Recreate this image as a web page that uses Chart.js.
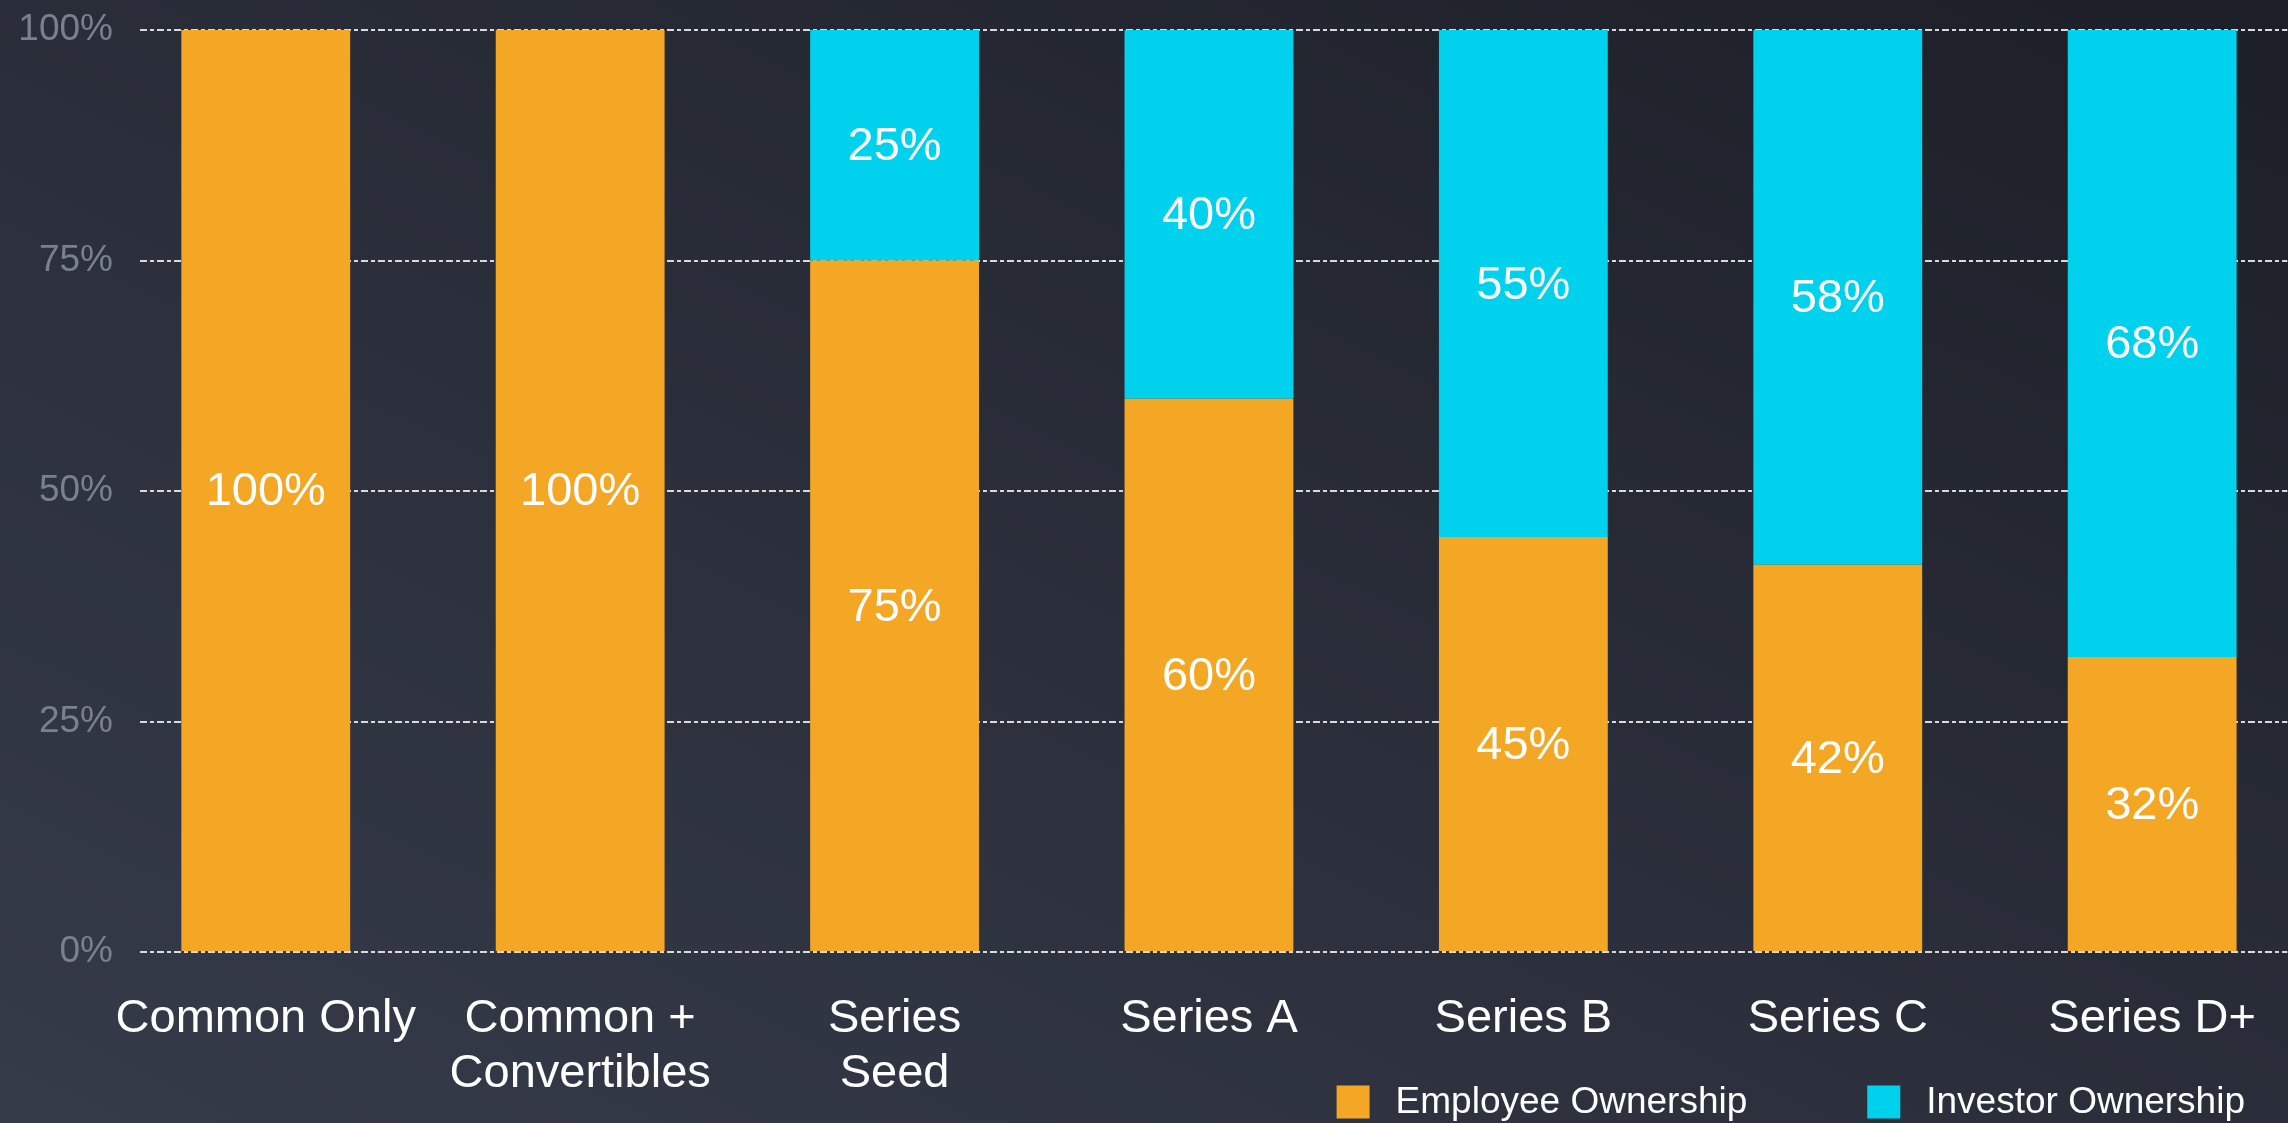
<!DOCTYPE html>
<html>
<head>
<meta charset="utf-8">
<title>Employee vs Investor Ownership</title>
<script src="https://cdn.jsdelivr.net/npm/chart.js@4/dist/chart.umd.min.js"></script>
<style>
    html, body {
        margin: 0;
        padding: 0;
        overflow: hidden;
    }
    body {
        width: 2288px;
        height: 1123px;
        background: linear-gradient(to top right, #363b4a 0%, #2b2f3b 45%, #1c1f27 100%);
    }
    #wrap {
        position: relative;
        width: 2288px;
        height: 1123px;
    }
</style>
</head>
<body>
<div id="wrap">
    <canvas id="ownership-chart" width="2288" height="1123"></canvas>
</div>
<script>
// ------------ DATA ------------ 

const categories = [
    'Common Only',
    ['Common +', 'Convertibles'],
    ['Series', 'Seed'],
    'Series A',
    'Series B',
    'Series C',
    'Series D+'
];

const employeeOwnership = [100, 100, 75, 60, 45, 42, 32];
const investorOwnership = [0, 0, 25, 40, 55, 58, 68];

const yTicks = [0, 25, 50, 75, 100];

const seriesNames = ['Employee Ownership', 'Investor Ownership'];

// ------------ STYLE ------------ 

const ORANGE = '#f4a724';
const CYAN = '#00d1ec';
const FONT = '"Liberation Sans", Arial, Helvetica, sans-serif';

function toPoints(values){
    return values.map(function(v, i){ return { x: i, y: v } });
}

// percent labels in the middle of every segment
const segmentLabels = {
    id: 'segmentLabels',
    afterDraw(chart){
        var ctx = chart.ctx;
        ctx.save();
        ctx.fillStyle = '#ffffff';
        ctx.font = '47px ' + FONT;
        ctx.textAlign = 'center';
        ctx.textBaseline = 'middle';
        chart.data.datasets.forEach(function(ds, di){
            var meta = chart.getDatasetMeta(di);
            meta.data.forEach(function(bar, i){
                var v = ds.data[i].y;
                if (!v) return;
                var p = bar.getProps(['x', 'y', 'base'], true);
                ctx.fillText(v + '%', p.x, (p.y + p.base) / 2 + 2);
            });
        });
        ctx.restore();
    }
};

// legend in the bottom right corner, sitting under the category labels
const cornerLegend = {
    id: 'cornerLegend',
    afterDraw(chart){
        var ctx = chart.ctx;
        var box = 33, gap = 26, spacing = 120;
        var right = 2245, midY = 1102;
        ctx.save();
        ctx.font = '37px ' + FONT;
        ctx.textBaseline = 'middle';
        ctx.textAlign = 'left';
        var items = chart.data.datasets.map(function(ds){
            return { text: ds.label, color: ds.backgroundColor, w: ctx.measureText(ds.label).width };
        });
        var total = 0;
        items.forEach(function(it, i){
            total += box + gap + it.w + (i > 0 ? spacing : 0);
        });
        var x = right - total;
        items.forEach(function(it){
            ctx.fillStyle = it.color;
            ctx.fillRect(x, midY - box / 2, box, box);
            ctx.fillStyle = '#ffffff';
            ctx.fillText(it.text, x + box + gap, midY + 1);
            x += box + gap + it.w + spacing;
        });
        ctx.restore();
    }
};

// ------------ CHART ------------ 

const data = {
    datasets: [{
        label: seriesNames[0],
        data: toPoints(employeeOwnership),
        backgroundColor: ORANGE,
        borderWidth: 0,
        barPercentage: 0.537,
        categoryPercentage: 1.0
    }, {
        label: seriesNames[1],
        data: toPoints(investorOwnership),
        backgroundColor: CYAN,
        borderWidth: 0,
        barPercentage: 0.537,
        categoryPercentage: 1.0
    }]
};

const config = {
    type: 'bar',
    data: data,
    options: {
        responsive: false,
        animation: false,
        layout: {
            padding: { top: 30, left: 0, right: 0, bottom: 0 }
        },
        scales: {
            x: {
                type: 'linear',
                stacked: true,
                offset: false,
                min: -0.4,
                max: categories.length - 0.57,
                afterFit: function(scale){ scale.height = 171 },
                grid: { display: false, offset: false },
                border: { display: false },
                ticks: {
                    stepSize: 1,
                    includeBounds: false,
                    autoSkip: false,
                    maxRotation: 0,
                    padding: 32,
                    color: '#ffffff',
                    font: { family: FONT, size: 47, lineHeight: 1.17 },
                    callback: function(v){ return categories[v] }
                }
            },
            y: {
                stacked: true,
                min: 0,
                max: 100,
                z: 1,
                afterFit: function(scale){ scale.width = 140 },
                afterBuildTicks: function(scale){
                    scale.ticks = yTicks.map(function(v){ return { value: v } });
                },
                grid: {
                    color: '#d9d9d9',
                    lineWidth: 2,
                    drawTicks: true,
                    tickLength: 27,
                    tickColor: 'rgba(0,0,0,0)'
                },
                border: { display: false, dash: [7, 3, 4, 3] },
                ticks: {
                    padding: 0,
                    color: '#7a808e',
                    font: { family: FONT, size: 37 },
                    callback: function(v){ return v + '%' }
                }
            }
        },
        plugins: {
            legend: { display: false },
            tooltip: { enabled: false }
        }
    },
    plugins: [segmentLabels, cornerLegend]
};

var ctx = document.getElementById('ownership-chart').getContext('2d');
const ownershipChart = new Chart(ctx, config);
</script>
</body>
</html>
